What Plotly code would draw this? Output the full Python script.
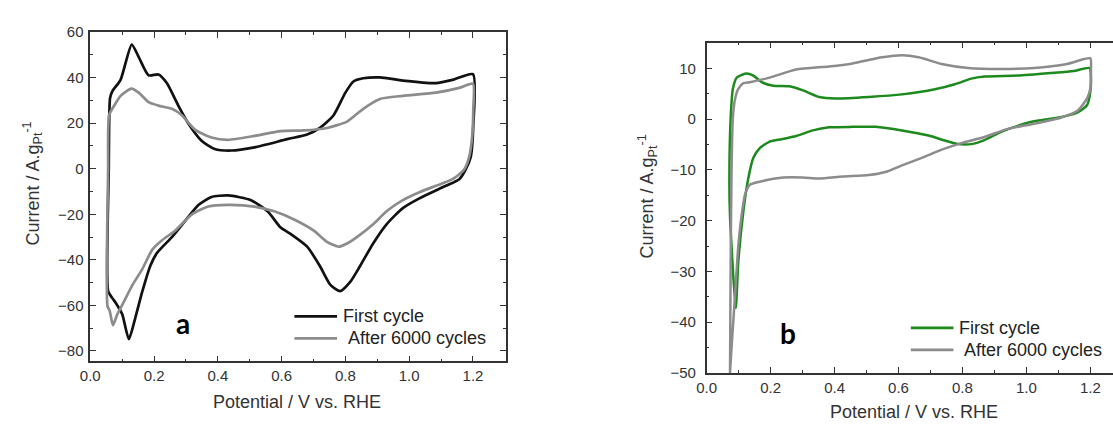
import plotly.graph_objects as go

# ---------------- Panel a ----------------
a_first_v = [0.056, 0.058, 0.062, 0.069, 0.095, 0.130, 0.152, 0.183, 0.214, 0.240, 0.276, 0.307, 0.349,
             0.390, 0.442, 0.515, 0.618, 0.680, 0.720, 0.763, 0.800, 0.825, 0.856, 0.908, 0.980,
             1.084, 1.136, 1.200, 1.201, 1.193, 1.177, 1.157, 1.115, 1.032, 0.980, 0.929, 0.887,
             0.846, 0.815, 0.784, 0.753, 0.720, 0.680, 0.628, 0.597, 0.556, 0.504, 0.432, 0.380,
             0.339, 0.297, 0.256, 0.209, 0.188, 0.163, 0.142, 0.121, 0.100, 0.080, 0.069, 0.056]
a_first_i = [-53.7, 0.0, 31.0, 34.0, 39.0, 54.5, 49.0, 41.0, 41.4, 37.6, 27.7, 20.0, 12.3,
             8.7, 8.0, 9.4, 13.0, 15.0, 17.9, 23.5, 33.4, 38.3, 39.7, 40.1, 38.7,
             37.6, 39.0, 41.5, 19.3, 5.2, -0.4, -4.6, -7.5, -13.0, -17.3, -24.4, -32.8,
             -42.7, -49.7, -53.7, -51.0, -42.7, -34.2, -28.6, -25.8, -18.7, -13.8, -11.7, -12.4,
             -15.9, -23.0, -30.0, -37.0, -42.7, -54.0, -65.0, -74.8, -63.8, -58.9, -56.8, -53.7]

a_aged_v = [0.054, 0.056, 0.059, 0.075, 0.095, 0.129, 0.152, 0.183, 0.214, 0.256, 0.287, 0.328, 0.380,
            0.432, 0.515, 0.597, 0.670, 0.742, 0.805, 0.856, 0.908, 0.980, 1.084, 1.157, 1.200,
            1.201, 1.198, 1.188, 1.172, 1.136, 1.084, 1.032, 0.980, 0.929, 0.887, 0.836, 0.805,
            0.779, 0.742, 0.701, 0.639, 0.577, 0.515, 0.432, 0.370, 0.318, 0.266, 0.225, 0.194,
            0.163, 0.132, 0.106, 0.085, 0.071, 0.061, 0.054]
a_aged_i = [-60.3, 0.0, 23.5, 27.7, 32.0, 35.2, 33.4, 29.2, 27.7, 26.3, 23.5, 17.2, 13.7,
            12.7, 14.4, 16.5, 16.8, 17.9, 20.7, 26.3, 30.6, 32.0, 33.4, 35.5, 37.3,
            26.3, 15.0, 5.2, -0.4, -4.6, -7.5, -10.3, -13.8, -18.7, -24.4, -30.0, -32.8,
            -34.2, -32.1, -27.2, -22.3, -18.7, -16.6, -15.9, -16.6, -20.1, -27.2, -31.4, -35.6,
            -44.1, -51.1, -58.2, -63.8, -68.7, -62.4, -60.3]

# ---------------- Panel b ----------------
b_first_v = [0.091, 0.073, 0.071, 0.075, 0.082, 0.094, 0.123, 0.146, 0.172, 0.208, 0.259, 0.301, 0.352,
             0.404, 0.507, 0.611, 0.714, 0.776, 0.828, 0.869, 0.973, 1.076, 1.148, 1.198,
             1.202, 1.200, 1.190, 1.159, 1.107, 1.024, 0.973, 0.921, 0.869, 0.828, 0.787, 0.745,
             0.694, 0.611, 0.528, 0.456, 0.383, 0.332, 0.280, 0.228, 0.197, 0.166, 0.146, 0.130,
             0.115, 0.099, 0.091]
b_first_i = [-37.2, -19.2, -12.3, 0.3, 6.0, 8.2, 9.0, 8.6, 7.3, 6.6, 6.5, 5.7, 4.4,
             4.1, 4.4, 4.9, 5.9, 6.9, 8.0, 8.4, 8.6, 9.1, 9.5, 10.1,
             7.9, 5.4, 2.8, 1.3, 0.4, -0.4, -1.3, -2.5, -4.1, -4.9, -4.9, -4.2,
             -3.2, -2.2, -1.5, -1.5, -1.6, -2.2, -3.3, -4.0, -4.4, -5.7, -7.6, -11.7,
             -18.0, -28.0, -37.2]

b_aged_v = [0.072, 0.073, 0.075, 0.078, 0.082, 0.089, 0.099, 0.115, 0.135, 0.197, 0.280, 0.383, 0.456,
            0.549, 0.611, 0.663, 0.735, 0.818, 0.921, 1.024, 1.128, 1.200,
            1.202, 1.200, 1.190, 1.159, 1.107, 1.024, 0.942, 0.869, 0.797, 0.735, 0.673, 0.611,
            0.559, 0.507, 0.425, 0.352, 0.301, 0.239, 0.166, 0.135, 0.120, 0.110, 0.099, 0.089,
            0.079, 0.073, 0.071]
b_aged_i = [-60.0, -50.0, -28.0, -9.1, 0.3, 4.1, 6.0, 7.1, 7.3, 8.2, 9.8, 10.4, 11.0,
            12.2, 12.6, 12.2, 10.9, 10.1, 9.9, 10.1, 10.9, 12.0,
            9.8, 6.0, 4.1, 1.6, 0.3, -0.9, -1.9, -3.5, -4.7, -6.0, -7.6, -9.1,
            -10.4, -11.0, -11.3, -11.7, -11.5, -11.5, -12.3, -12.9, -14.8, -18.6, -24.9, -34.4,
            -43.9, -50.0, -60.0]

series_names = ["First cycle", "After 6000 cycles"]
colors_a = ["#111111", "#8c8c8c"]
colors_b = ["#1c8a1c", "#8c8c8c"]

W, H = 1113, 429

def px_x(p):
    return p / W

def px_y(p):
    return 1 - p / H

fig = go.Figure()
fig.add_trace(go.Scatter(x=a_first_v, y=a_first_i, mode="lines", name=series_names[0],
                         line=dict(color=colors_a[0], width=2.7, shape="spline", smoothing=0.6),
                         xaxis="x", yaxis="y"))
fig.add_trace(go.Scatter(x=a_aged_v, y=a_aged_i, mode="lines", name=series_names[1],
                         line=dict(color=colors_a[1], width=2.7, shape="spline", smoothing=0.6),
                         xaxis="x", yaxis="y"))
fig.add_trace(go.Scatter(x=b_first_v, y=b_first_i, mode="lines", name=series_names[0],
                         line=dict(color=colors_b[0], width=2.5, shape="spline", smoothing=0.6),
                         xaxis="x2", yaxis="y2"))
fig.add_trace(go.Scatter(x=b_aged_v, y=b_aged_i, mode="lines", name=series_names[1],
                         line=dict(color=colors_b[1], width=2.5, shape="spline", smoothing=0.6),
                         xaxis="x2", yaxis="y2"))

axis_common = dict(showline=True, linecolor="#333333", linewidth=1.5, ticks="inside", ticklen=6,
                   tickwidth=1.3, tickcolor="#333333", showgrid=False, zeroline=False,
                   tickfont=dict(family="Liberation Sans, Arial, sans-serif", size=15, color="#333333"))

fig.update_layout(
    width=W, height=H,
    margin=dict(l=0, r=0, t=0, b=0),
    paper_bgcolor="white", plot_bgcolor="white",
    font=dict(family="Liberation Sans, Arial, sans-serif", color="#333333"),
    showlegend=False,
    xaxis=dict(domain=[px_x(81), px_x(500)], range=[0, 1.302], dtick=0.2, tickformat=".1f",
               mirror="ticks", anchor="y",
               minor=dict(ticks="inside", ticklen=3, dtick=0.1, tickcolor="#333333"), **axis_common),
    yaxis=dict(domain=[px_y(367), px_y(24)], range=[-84.6, 60], dtick=20, mirror="ticks", anchor="x",
               ticklabelstandoff=2,
               minor=dict(ticks="inside", ticklen=3, dtick=10, tickcolor="#333333"), **axis_common),
    xaxis2=dict(domain=[px_x(703), 1.0], range=[0, 1.271], dtick=0.2, tickformat=".1f",
                mirror="ticks", anchor="y2",
                minor=dict(ticks="inside", ticklen=3, dtick=0.1, tickcolor="#333333"), **axis_common),
    yaxis2=dict(domain=[px_y(379), px_y(35)], range=[-50, 15.1], dtick=10, mirror=False, anchor="x2",
                ticklabelstandoff=6,
                minor=dict(ticks="inside", ticklen=3, dtick=5, tickcolor="#333333"), **axis_common),
)

# Axis titles (placed as in the reference, which are not centred on the axes)
title_font = dict(family="Liberation Sans, Arial, sans-serif", size=18, color="#333333")
ytitle = "Current / A.g<sub>Pt</sub><sup>-1</sup>"
fig.add_annotation(text=ytitle, textangle=-90, x=px_x(23), y=px_y(182), xref="paper", yref="paper",
                   showarrow=False, font=title_font, xanchor="center", yanchor="middle")
fig.add_annotation(text=ytitle, textangle=-90, x=px_x(643), y=px_y(195), xref="paper", yref="paper",
                   showarrow=False, font=title_font, xanchor="center", yanchor="middle")
fig.add_annotation(text="Potential / V vs. RHE", x=px_x(290), y=px_y(409), xref="paper", yref="paper",
                   showarrow=False, font=title_font, xanchor="center", yanchor="middle")
fig.add_annotation(text="Potential / V vs. RHE", x=px_x(912), y=px_y(420), xref="paper", yref="paper",
                   showarrow=False, font=title_font, xanchor="center", yanchor="middle")

# Panel letters
label_font = dict(family="Lato, Open Sans, sans-serif", size=28, color="black")
fig.add_annotation(text="<b>a</b>", x=px_x(175), y=px_y(327), xref="paper", yref="paper",
                   showarrow=False, font=label_font, xanchor="center", yanchor="middle")
fig.add_annotation(text="<b>b</b>", x=px_x(785), y=px_y(337), xref="paper", yref="paper",
                   showarrow=False, font=label_font, xanchor="center", yanchor="middle")

# Legends (line sample + label), one per panel
legend_font = dict(family="Liberation Sans, Arial, sans-serif", size=18, color="#222222")
legend_specs = [
    # (line x0, line x1, text x, y, colour, name)
    (287, 330, 334, 320, colors_a[0], series_names[0]),
    (287, 330, 339, 343, colors_a[1], series_names[1]),
    (909, 952, 956, 332, colors_b[0], series_names[0]),
    (909, 952, 961, 355, colors_b[1], series_names[1]),
]
for x0, x1, tx, yy, col, name in legend_specs:
    fig.add_shape(type="line", xref="paper", yref="paper", x0=px_x(x0), x1=px_x(x1),
                  y0=px_y(yy), y1=px_y(yy), line=dict(color=col, width=2.7))
    fig.add_annotation(text=name, x=px_x(tx), y=px_y(yy), xref="paper", yref="paper",
                       showarrow=False, font=legend_font, xanchor="left", yanchor="middle")

fig.write_html("out.html")
